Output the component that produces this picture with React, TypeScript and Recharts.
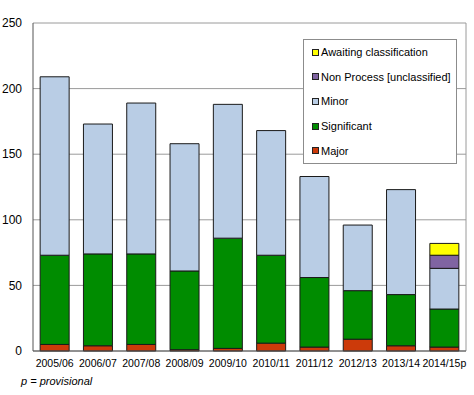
import { BarChart, Bar, XAxis, YAxis, CartesianGrid, Legend } from "recharts";

const categories = [
  "2005/06",
  "2006/07",
  "2007/08",
  "2008/09",
  "2009/10",
  "2010/11",
  "2011/12",
  "2012/13",
  "2013/14",
  "2014/15p",
];
const major = [5, 4, 5, 1, 2, 6, 3, 9, 4, 3];
const significant = [68, 70, 69, 60, 84, 67, 53, 37, 39, 29];
const minor = [136, 99, 115, 97, 102, 95, 77, 50, 80, 31];
const nonProcess = [null, null, null, null, null, null, null, null, null, 10];
const awaiting = [null, null, null, null, null, null, null, null, null, 9];
const yTicks = [0, 50, 100, 150, 200, 250];

const series = [
  { key: "major", name: "Major", color: "#cc3a0a" },
  { key: "significant", name: "Significant", color: "#008c00" },
  { key: "minor", name: "Minor", color: "#b9cde5" },
  { key: "nonProcess", name: "Non Process [unclassified]", color: "#8064a2" },
  { key: "awaiting", name: "Awaiting classification", color: "#ffff00" },
];

const data = categories.map((c, i) => ({
  year: c,
  major: major[i],
  significant: significant[i],
  minor: minor[i],
  nonProcess: nonProcess[i],
  awaiting: awaiting[i],
}));

const font = "'Liberation Sans', Arial, sans-serif";

function LegendBox() {
  const items = [...series].reverse();
  return (
    <div
      style={{
        border: "1px solid #8c8c8c",
        background: "#fff",
        padding: "0 0 0 8px",
        height: 125,
        fontFamily: font,
        fontSize: 11,
        color: "#000",
        boxSizing: "border-box",
      }}
    >
      {items.map((s) => (
        <div key={s.key} style={{ height: 24.6, display: "flex", alignItems: "center" }}>
          <span
            style={{
              display: "inline-block",
              width: 5,
              height: 5,
              background: s.color,
              border: "1px solid #222",
              marginRight: 2,
            }}
          />
          {s.name}
        </div>
      ))}
    </div>
  );
}

export default function App() {
  return (
    <div style={{ position: "absolute", left: 0, top: 0, width: 474, height: 395, background: "#fff" }}>
      <BarChart
        width={474}
        height={395}
        data={data}
        margin={{ top: 23, right: 8, left: 0, bottom: 24 }}
        barCategoryGap="16.5%"
      >
        <CartesianGrid
          stroke="#9a9a9a"
          horizontal
          vertical
          verticalCoordinatesGenerator={({ offset }: any) => [offset.left + offset.width]}
        />
        <XAxis
          dataKey="year"
          height={20}
          tickLine={false}
          tickSize={4}
          tickMargin={5}
          axisLine={{ stroke: "#555" }}
          tick={{ fontSize: 10.5, fill: "#000", fontFamily: font }}
          interval={0}
        />
        <YAxis
          width={33}
          domain={[0, 250]}
          ticks={yTicks}
          tickLine={false}
          tickSize={6}
          tickMargin={5}
          axisLine={{ stroke: "#555" }}
          tick={{ fontSize: 12, fill: "#000", fontFamily: font }}
        />
        <Legend
          layout="vertical"
          align="center"
          verticalAlign="middle"
          wrapperStyle={{ left: 303, top: 39, width: 154 }}
          content={() => <LegendBox />}
        />
        {series.map((s) => (
          <Bar
            key={s.key}
            dataKey={s.key}
            name={s.name}
            stackId="a"
            fill={s.color}
            stroke="#1a1a1a"
            strokeWidth={1}
            isAnimationActive={false}
          />
        ))}
      </BarChart>
      <div
        style={{
          position: "absolute",
          left: 21,
          top: 375,
          fontFamily: font,
          fontSize: 11,
          fontStyle: "italic",
          color: "#000",
        }}
      >
        p = provisional
      </div>
    </div>
  );
}
